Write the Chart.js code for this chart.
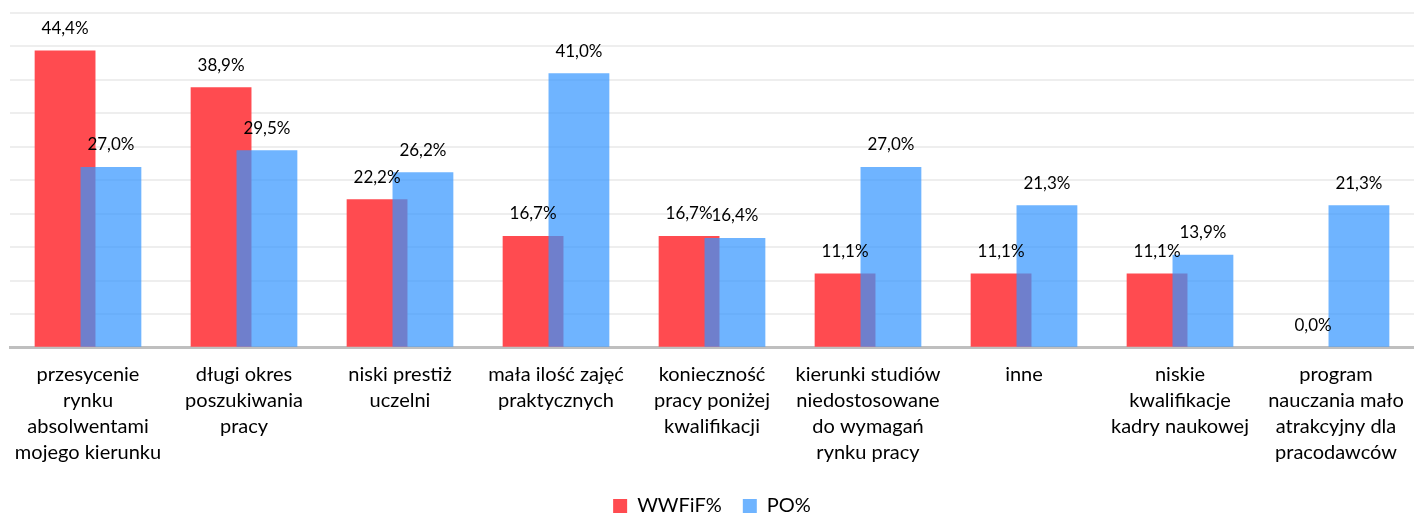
<!DOCTYPE html>
<html>
<head>
<meta charset="utf-8">
<script src="https://cdn.jsdelivr.net/npm/chart.js@4/dist/chart.umd.min.js"></script>
<style>
html,body{margin:0;padding:0;background:#fff;}
#wrap{width:1414px;height:513px;position:relative;}
</style>
</head>
<body>
<div id="wrap"><canvas id="c"></canvas></div>
<script>
const categories = [
  ["przesycenie","rynku","absolwentami","mojego kierunku"],
  ["długi okres","poszukiwania","pracy"],
  ["niski prestiż","uczelni"],
  ["mała ilość zajęć","praktycznych"],
  ["konieczność","pracy poniżej","kwalifikacji"],
  ["kierunki studiów","niedostosowane","do wymagań","rynku pracy"],
  ["inne"],
  ["niskie","kwalifikacje","kadry naukowej"],
  ["program","nauczania mało","atrakcyjny dla","pracodawców"]
];
const seriesNames = ["WWFiF%", "PO%"];
const wwfifValues = [44.4, 38.9, 22.2, 16.7, 16.7, 11.1, 11.1, 11.1, 0.0];
const poValues = [27.0, 29.5, 26.2, 41.0, 16.4, 27.0, 21.3, 13.9, 21.3];

const FONT = "Lato, 'Liberation Sans', sans-serif";

const orderedDraw = {
  id: 'orderedDraw',
  beforeDatasetsDraw(chart) {
    const ctx = chart.ctx, a = chart.chartArea;
    ctx.save();
    ctx.beginPath();
    ctx.rect(a.left, a.top - 40, a.right - a.left, a.bottom - a.top + 40);
    ctx.clip();
    for (let i = 0; i < chart.data.datasets.length; i++) {
      const meta = chart.getDatasetMeta(i);
      if (!meta.hidden) meta.controller.draw();
    }
    ctx.restore();
    // value labels
    ctx.save();
    ctx.font = "17px " + FONT;
    ctx.fillStyle = "#000";
    ctx.textAlign = "center";
    ctx.textBaseline = "middle";
    for (let i = 0; i < chart.data.datasets.length; i++) {
      const meta = chart.getDatasetMeta(i);
      const ds = chart.data.datasets[i];
      meta.data.forEach((el, j) => {
        const v = ds.data[j];
        const txt = v.toFixed(1).replace('.', ',') + '%';
        ctx.fillText(txt, el.x, el.y - 22);
      });
    }
    ctx.restore();
    return false;
  }
};

new Chart(document.getElementById('c'), {
  type: 'bar',
  data: {
    labels: categories,
    datasets: [
      { label: seriesNames[0], data: wwfifValues, backgroundColor: 'rgb(255,75,80)', borderWidth: 0 },
      { label: seriesNames[1], data: poValues, backgroundColor: 'rgba(52,149,255,0.71)', borderWidth: 0 }
    ]
  },
  options: {
    responsive: true,
    maintainAspectRatio: false,
    animation: false,
    layout: { padding: { left: 10, right: 0, top: 13, bottom: -13 } },
    datasets: { bar: { categoryPercentage: 0.588, barPercentage: 1.326 } },
    plugins: {
      tooltip: { enabled: false },
      legend: {
        position: 'bottom',
        labels: {
          boxWidth: 14, boxHeight: 14, padding: 21,
          color: '#000',
          font: { family: FONT, size: 20 }
        }
      }
    },
    scales: {
      x: {
        grid: { display: false },
        border: { display: true, color: '#BFBFBF', width: 3 },
        afterFit(scale) { scale.height += 4; },
        ticks: {
          color: '#000', maxRotation: 0, autoSkip: false, padding: 6,
          font: { family: FONT, size: 20, lineHeight: 1.29 }
        }
      },
      y: {
        min: 0, max: 50,
        ticks: { display: false, stepSize: 5 },
        border: { display: false },
        grid: {
          color: (c) => c.tick && c.tick.value === 0 ? 'rgba(0,0,0,0)' : '#EEEEEE',
          lineWidth: 2,
          drawTicks: false
        }
      }
    }
  },
  plugins: [orderedDraw]
});
</script>
</body>
</html>
